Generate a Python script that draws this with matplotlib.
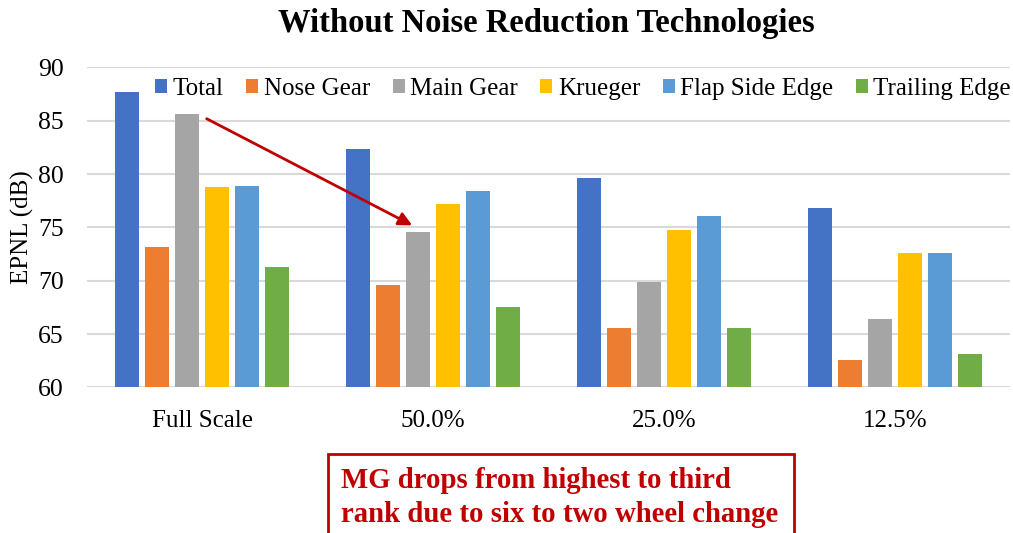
import matplotlib.pyplot as plt
import numpy as np
from matplotlib.patches import Rectangle

import matplotlib as mpl
mpl.rcParams['figure.dpi'] = 100
mpl.rcParams['font.family'] = ['Liberation Serif', 'DejaVu Serif']

categories = ["Full Scale", "50.0%", "25.0%", "12.5%"]
series = ["Total", "Nose Gear", "Main Gear", "Krueger", "Flap Side Edge", "Trailing Edge"]
total = [87.7, 82.4, 79.6, 76.8]
nose_gear = [73.2, 69.6, 65.6, 62.6]
main_gear = [85.6, 74.6, 69.9, 66.4]
krueger = [78.8, 77.2, 74.8, 72.6]
flap_side_edge = [78.9, 78.4, 76.1, 72.6]
trailing_edge = [71.3, 67.5, 65.6, 63.1]
colors = ["#4472C4", "#ED7D31", "#A5A5A5", "#FFC000", "#5B9BD5", "#70AD47"]

values = [total, nose_gear, main_gear, krueger, flap_side_edge, trailing_edge]

fig = plt.figure(figsize=(10.13, 5.33))
ax = fig.add_axes([0.0854, 0.273, 0.9121, 0.6004])

x = np.arange(len(categories))
pitch = 0.13
width = 0.104
for i, (name, vals, c) in enumerate(zip(series, values, colors)):
    ax.bar(x + (i - 2.5) * pitch, vals, width, color=c, label=name, zorder=3)

ax.set_xlim(-0.5, len(categories) - 0.5)
ax.set_ylim(60, 90)
ax.set_yticks(np.arange(60, 91, 5))
ax.tick_params(axis='y', labelsize=18.5, length=0, pad=16.5)
ax.set_xticks(x, categories)
ax.tick_params(axis='x', labelsize=18, length=0, pad=16)
ax.grid(axis='y', color="#D9D9D9", lw=1.5, zorder=0)
for s in ax.spines.values():
    s.set_visible(False)

# y label placed by hand so it is not pushed off the left edge
fig.text(22 / 1013, 1 - 227.5 / 533, "EPNL (dB)", rotation=90, ha='center', va='center',
         fontsize=18)

ax.legend(loc='center right', bbox_to_anchor=(1011 / 1013, 1 - 89 / 533),
          bbox_transform=fig.transFigure, ncol=6, frameon=False,
          fontsize=18, handlelength=0.48, handleheight=0.48, handletextpad=0.22,
          columnspacing=0.9, borderaxespad=0, borderpad=0)

fig.text(0.539, 0.94, "Without Noise Reduction Technologies", ha='center', va='baseline',
         fontsize=23.5, weight='bold')

red = "#C00000"
ax.annotate("", xy=(0.91, 75.2), xytext=(0.02, 85.2),
            arrowprops=dict(arrowstyle="-|>", color=red, lw=2, mutation_scale=20,
                            shrinkA=0, shrinkB=0), zorder=5)

fig.patches.append(Rectangle((0.3238, -0.05), 0.46, 0.198, transform=fig.transFigure,
                             fill=False, edgecolor=red, lw=2))
fig.text(0.3366, 0.0844, "MG drops from highest to third", color=red, fontsize=20.7,
         weight='bold', va='baseline')
fig.text(0.3366, 0.0206, "rank due to six to two wheel change", color=red, fontsize=20.7,
         weight='bold', va='baseline')

fig.savefig("out.png")
